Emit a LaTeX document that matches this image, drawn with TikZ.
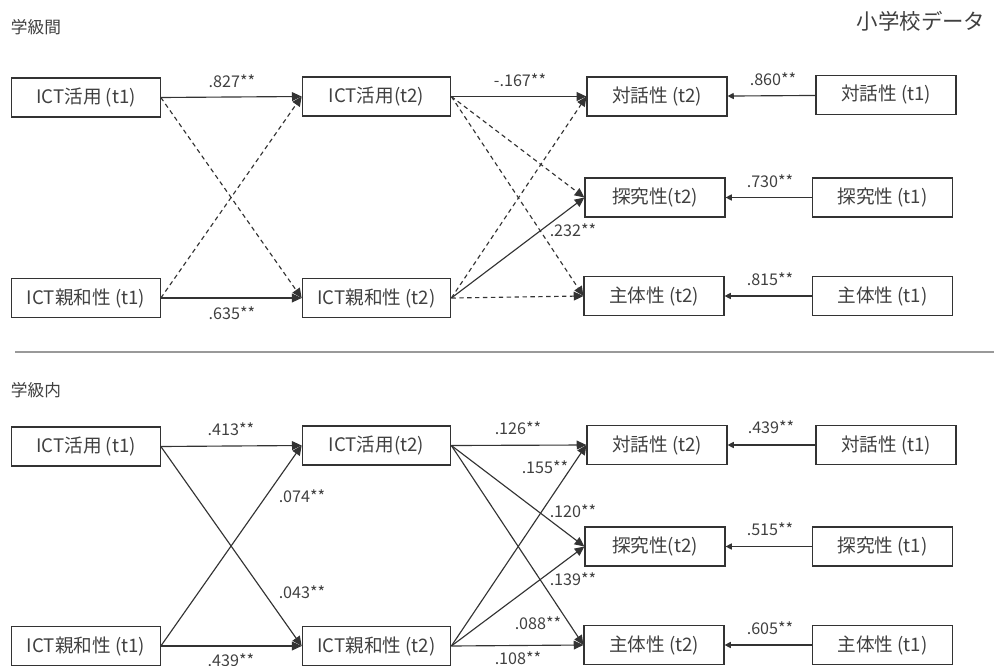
\documentclass[tikz,border=0pt]{standalone}
\usepackage{fontspec}
\newfontfamily\jpfont{Noto Sans CJK JP}
\usetikzlibrary{arrows.meta}
\definecolor{linegray}{HTML}{333333}
\definecolor{textgray}{HTML}{404040}

\begin{document}
\begin{tikzpicture}[
    x=0.02cm, y=-0.02cm,
    var/.style={draw=linegray, line width=0.7pt, minimum height=0.78cm, inner sep=0, text=textgray, font=\jpfont\fontsize{10.6}{12}\selectfont},
    ictbox/.style={var, minimum width=2.97cm},
    outbox/.style={var, minimum width=2.8cm},
    effect/.style={draw=linegray, line width=0.65pt, -{Triangle[length=5.5pt,width=5pt]}},
    effectdash/.style={effect, dash pattern=on 2.5pt off 2pt},
    stab/.style={draw=linegray, line width=0.65pt, -{Triangle[length=3.5pt,width=3.5pt]}},
    coef/.style={text=textgray, inner sep=0, font=\jpfont\fontsize{9.2}{11}\selectfont},
    heading/.style={text=textgray, inner sep=0, font=\jpfont\fontsize{9.5}{11}\selectfont}
    ]
    \useasboundingbox (0,0) rectangle (994,666);

    % Titles
    \node[heading] (tb) at (36,27) {学級間};
    \node[heading, font=\jpfont\fontsize{12.2}{14}\selectfont] (ts) at (921,21) {小学校データ};

    % Between classes: boxes
    \node[ictbox] (a1) at (86,97.5) {ICT活用 (t1)};
    \node[ictbox] (a2) at (376.5,96.5) {ICT活用(t2)};
    \node[ictbox] (b1) at (86,298) {ICT親和性 (t1)};
    \node[ictbox] (b2) at (376.5,298) {ICT親和性 (t2)};
    \node[outbox] (d2) at (657,96.5) {対話性 (t2)};
    \node[outbox] (e2) at (655,197.5) {探究性(t2)};
    \node[outbox] (s2) at (654,296) {主体性 (t2)};
    \node[outbox] (d1) at (886,95) {対話性 (t1)};
    \node[outbox] (e1) at (882.5,197.5) {探究性 (t1)};
    \node[outbox] (s1) at (882.5,296) {主体性 (t1)};

    % Between classes: paths
    \draw[effect] (a1.east) -- (a2.west);
    \draw[effectdash] (a1.east) -- (b2.west);
    \draw[effectdash] (b1.east) -- (a2.west);
    \draw[effect] (b1.east) -- (b2.west);
    \draw[effect] (a2.east) -- (d2.west);
    \draw[effectdash] (a2.east) -- (e2.west);
    \draw[effectdash] (a2.east) -- (s2.west);
    \draw[effectdash] (b2.east) -- (d2.west);
    \draw[effect] (b2.east) -- (e2.west);
    \draw[effectdash] (b2.east) -- (s2.west);
    \draw[stab] (d1) -- (d2);
    \draw[stab] (e1) -- (e2);
    \draw[stab] (s1) -- (s2);

    % Between classes: coefficients
    \node[coef] (c1) at (232,81) {.827**};
    \node[coef] (c2) at (232,313) {.635**};
    \node[coef] (c3) at (520,80) {-.167**};
    \node[coef] (c4) at (573,230) {.232**};
    \node[coef] (c5) at (773,79) {.860**};
    \node[coef] (c6) at (770,181) {.730**};
    \node[coef] (c7) at (770,279) {.815**};

    % Separator
    \coordinate (sepL) at (15,352);
    \coordinate (sepR) at (994,352);
    \draw[draw=gray!80, line width=1pt] (sepL) -- (sepR);

    % Within classes
    \node[heading] (tw) at (36,390) {学級内};

    \node[ictbox] (wa1) at (86,446.5) {ICT活用 (t1)};
    \node[ictbox] (wa2) at (376.5,445.5) {ICT活用(t2)};
    \node[ictbox] (wb1) at (86,646) {ICT親和性 (t1)};
    \node[ictbox] (wb2) at (376.5,646) {ICT親和性 (t2)};
    \node[outbox] (wd2) at (657,445) {対話性 (t2)};
    \node[outbox] (we2) at (655,546.5) {探究性(t2)};
    \node[outbox] (ws2) at (654,645) {主体性 (t2)};
    \node[outbox] (wd1) at (886,445) {対話性 (t1)};
    \node[outbox] (we1) at (882.5,546.5) {探究性 (t1)};
    \node[outbox] (ws1) at (882.5,645) {主体性 (t1)};

    \draw[effect] (wa1.east) -- (wa2.west);
    \draw[effect] (wa1.east) -- (wb2.west);
    \draw[effect] (wb1.east) -- (wa2.west);
    \draw[effect] (wb1.east) -- (wb2.west);
    \draw[effect] (wa2.east) -- (wd2.west);
    \draw[effect] (wa2.east) -- (we2.west);
    \draw[effect] (wa2.east) -- (ws2.west);
    \draw[effect] (wb2.east) -- (wd2.west);
    \draw[effect] (wb2.east) -- (we2.west);
    \draw[effect] (wb2.east) -- (ws2.west);
    \draw[stab] (wd1) -- (wd2);
    \draw[stab] (we1) -- (we2);
    \draw[stab] (ws1) -- (ws2);

    \node[coef] (wc1) at (231,429) {.413**};
    \node[coef] (wc2) at (231,660) {.439**};
    \node[coef] (wc3) at (302,496) {.074**};
    \node[coef] (wc4) at (302,592) {.043**};
    \node[coef] (wc5) at (518,428) {.126**};
    \node[coef] (wc6) at (545,467) {.155**};
    \node[coef] (wc7) at (573,511) {.120**};
    \node[coef] (wc8) at (573,579) {.139**};
    \node[coef] (wc9) at (538,623) {.088**};
    \node[coef] (wc10) at (518,658) {.108**};
    \node[coef] (wc11) at (771,427) {.439**};
    \node[coef] (wc12) at (770,529) {.515**};
    \node[coef] (wc13) at (770,628) {.605**};
\end{tikzpicture}
\end{document}
